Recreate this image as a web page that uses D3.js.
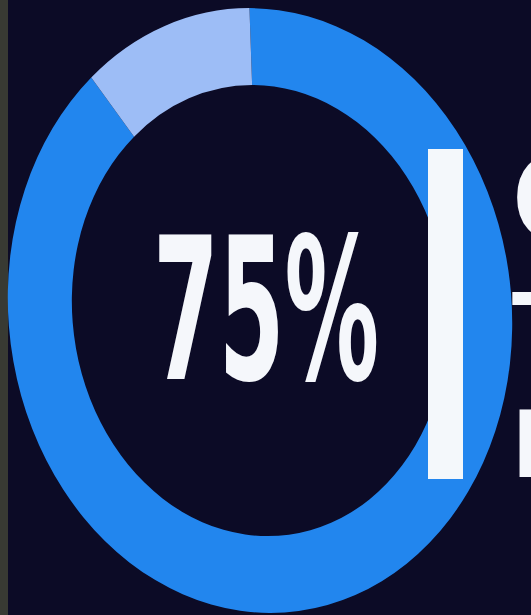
<!DOCTYPE html>
<html>
<head>
<meta charset="utf-8">
<script src="https://cdn.jsdelivr.net/npm/d3@7"></script>
<style>
  html, body { margin: 0; padding: 0; background: #0c0b26; overflow: hidden; }
  svg { display: block; }
</style>
</head>
<body>
<svg id="chart" width="531" height="615"></svg>
<script>
// ---- data ----
const segments = ["filled", "remaining"];
const values = [89, 11];
const segmentColors = ["#2286ee", "#9dbdf6"];
const centerLabel = "75%";
const sideLetters = ["C", "T", "L"];

const W = 531, H = 615;
const svg = d3.select("#chart");

svg.append("rect").attr("width", W).attr("height", H).attr("fill", "#0c0b26");
// dark bezel at left edge of the photographed screen
svg.append("rect").attr("x", 0).attr("y", 0).attr("width", 8).attr("height", H).attr("fill", "#383a33");

const outerR = 252, innerR = 188;
const g = svg.append("g")
  .attr("transform", "translate(260,310.5) skewX(2) scale(1,1.2)");

const pie = d3.pie().sort(null).value(d => d.v);
const arc = d3.arc().innerRadius(innerR).outerRadius(outerR);
const pieData = pie(segments.map((s, i) => ({ s, v: values[i], c: segmentColors[i] })));

g.selectAll("path").data(pieData).join("path")
  .attr("d", arc)
  .attr("fill", d => d.data.c);

const font = "'Liberation Sans Narrow', 'DejaVu Sans Condensed', 'Liberation Sans', sans-serif";

svg.append("text")
  .attr("x", 153).attr("y", 379)
  .attr("font-family", font)
  .attr("font-weight", "bold")
  .attr("font-size", 198)
  .attr("textLength", 226)
  .attr("lengthAdjust", "spacingAndGlyphs")
  .attr("fill", "#f5f7fb")
  .text(centerLabel);

// white vertical divider bar
svg.append("rect")
  .attr("x", 428).attr("y", 149).attr("width", 35).attr("height", 330)
  .attr("fill", "#f4f8fb");

const letterSizes = [115, 90, 92];
const letterBaselines = [239, 358, 477];
svg.selectAll("text.side").data(sideLetters).join("text")
  .attr("class", "side")
  .attr("x", 512)
  .attr("y", (d, i) => letterBaselines[i])
  .attr("font-family", font)
  .attr("font-weight", "bold")
  .attr("font-size", (d, i) => letterSizes[i])
  .attr("fill", "#f5f7fb")
  .text(d => d);
</script>
</body>
</html>
